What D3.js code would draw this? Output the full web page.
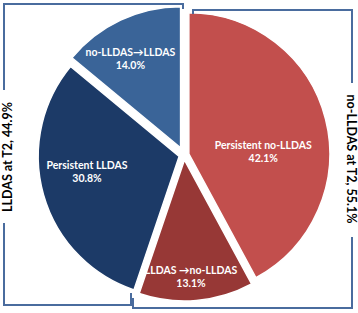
<!DOCTYPE html>
<html><head><meta charset="utf-8">
<script src="https://cdn.jsdelivr.net/npm/d3@7"></script>
<style>body{margin:0;background:#fff}svg{display:block}</style>
</head><body>
<script>
const categories = ["Persistent no-LLDAS", "LLDAS \u2192no-LLDAS", "Persistent LLDAS", "no-LLDAS\u2192LLDAS"];
const values = [42.1, 13.1, 30.8, 14.0];
const sliceColors = ["#c24f4d", "#973836", "#1c3a67", "#3a6498"];
const groupLabels = ["LLDAS at T2, 44.9%", "no-LLDAS at T2, 55.1%"];

const W = 358, H = 313;
const cx = 184, cy = 155, R = 141;
const explodes = [5, 5, 5, 8];
const nudges = [[-24, 23], [-2, 15], [5.5, -12.6], [-7, 3]];

const svg = d3.select("body").append("svg").attr("width", W).attr("height", H);

const pie = d3.pie().sort(null).startAngle(0).endAngle(2 * Math.PI);
const arcs = pie(values);
const arc = d3.arc().innerRadius(0).outerRadius(R);
const labelArc = d3.arc().innerRadius(R * 0.72).outerRadius(R * 0.72);

const g = svg.append("g").attr("transform", `translate(${cx},${cy})`);
arcs.forEach((a, i) => {
  const mid = (a.startAngle + a.endAngle) / 2;
  const ox = explodes[i] * Math.sin(mid), oy = -explodes[i] * Math.cos(mid);
  const sg = g.append("g").attr("transform", `translate(${ox},${oy})`);
  sg.append("path").attr("d", arc(a)).attr("fill", sliceColors[i])
    .attr("stroke", "#fff").attr("stroke-width", 1.5);
  const c = labelArc.centroid(a);
  const lx = c[0] + nudges[i][0], ly = c[1] + nudges[i][1];
  const t = sg.append("text").attr("text-anchor", "middle")
    .attr("font-family", "Lato, 'Open Sans', sans-serif").attr("font-weight", "bold")
    .attr("font-size", 10.5).attr("fill", "#fff");
  t.append("tspan").attr("x", lx).attr("y", ly - 2.5).text(categories[i]);
  t.append("tspan").attr("x", lx).attr("y", ly + 10.5).text(values[i].toFixed(1) + "%");
});

// brackets
const lineColor = "#4a6c9e";
const br = svg.append("g").attr("fill", "none").attr("stroke", lineColor).attr("stroke-width", 2);
br.append("path").attr("d", "M183,9 L183,4 L4,4 L4,90 M4,223 L4,305 L131,305 L131,293");
br.append("path").attr("d", "M193,14 L193,10 L352,10 L352,83 M352,237 L352,308 L133,308 L133,298");

svg.append("text").attr("transform", "translate(12,157) rotate(-90)")
  .attr("text-anchor", "middle").attr("font-family", "Lato, 'Open Sans', sans-serif")
  .attr("font-weight", "bold").attr("font-size", 12.5).attr("fill", "#000").text(groupLabels[0]);
svg.append("text").attr("transform", "translate(347,159) rotate(90)")
  .attr("text-anchor", "middle").attr("font-family", "Lato, 'Open Sans', sans-serif")
  .attr("font-weight", "bold").attr("font-size", 12.5).attr("fill", "#000").text(groupLabels[1]);
</script>
</body></html>
